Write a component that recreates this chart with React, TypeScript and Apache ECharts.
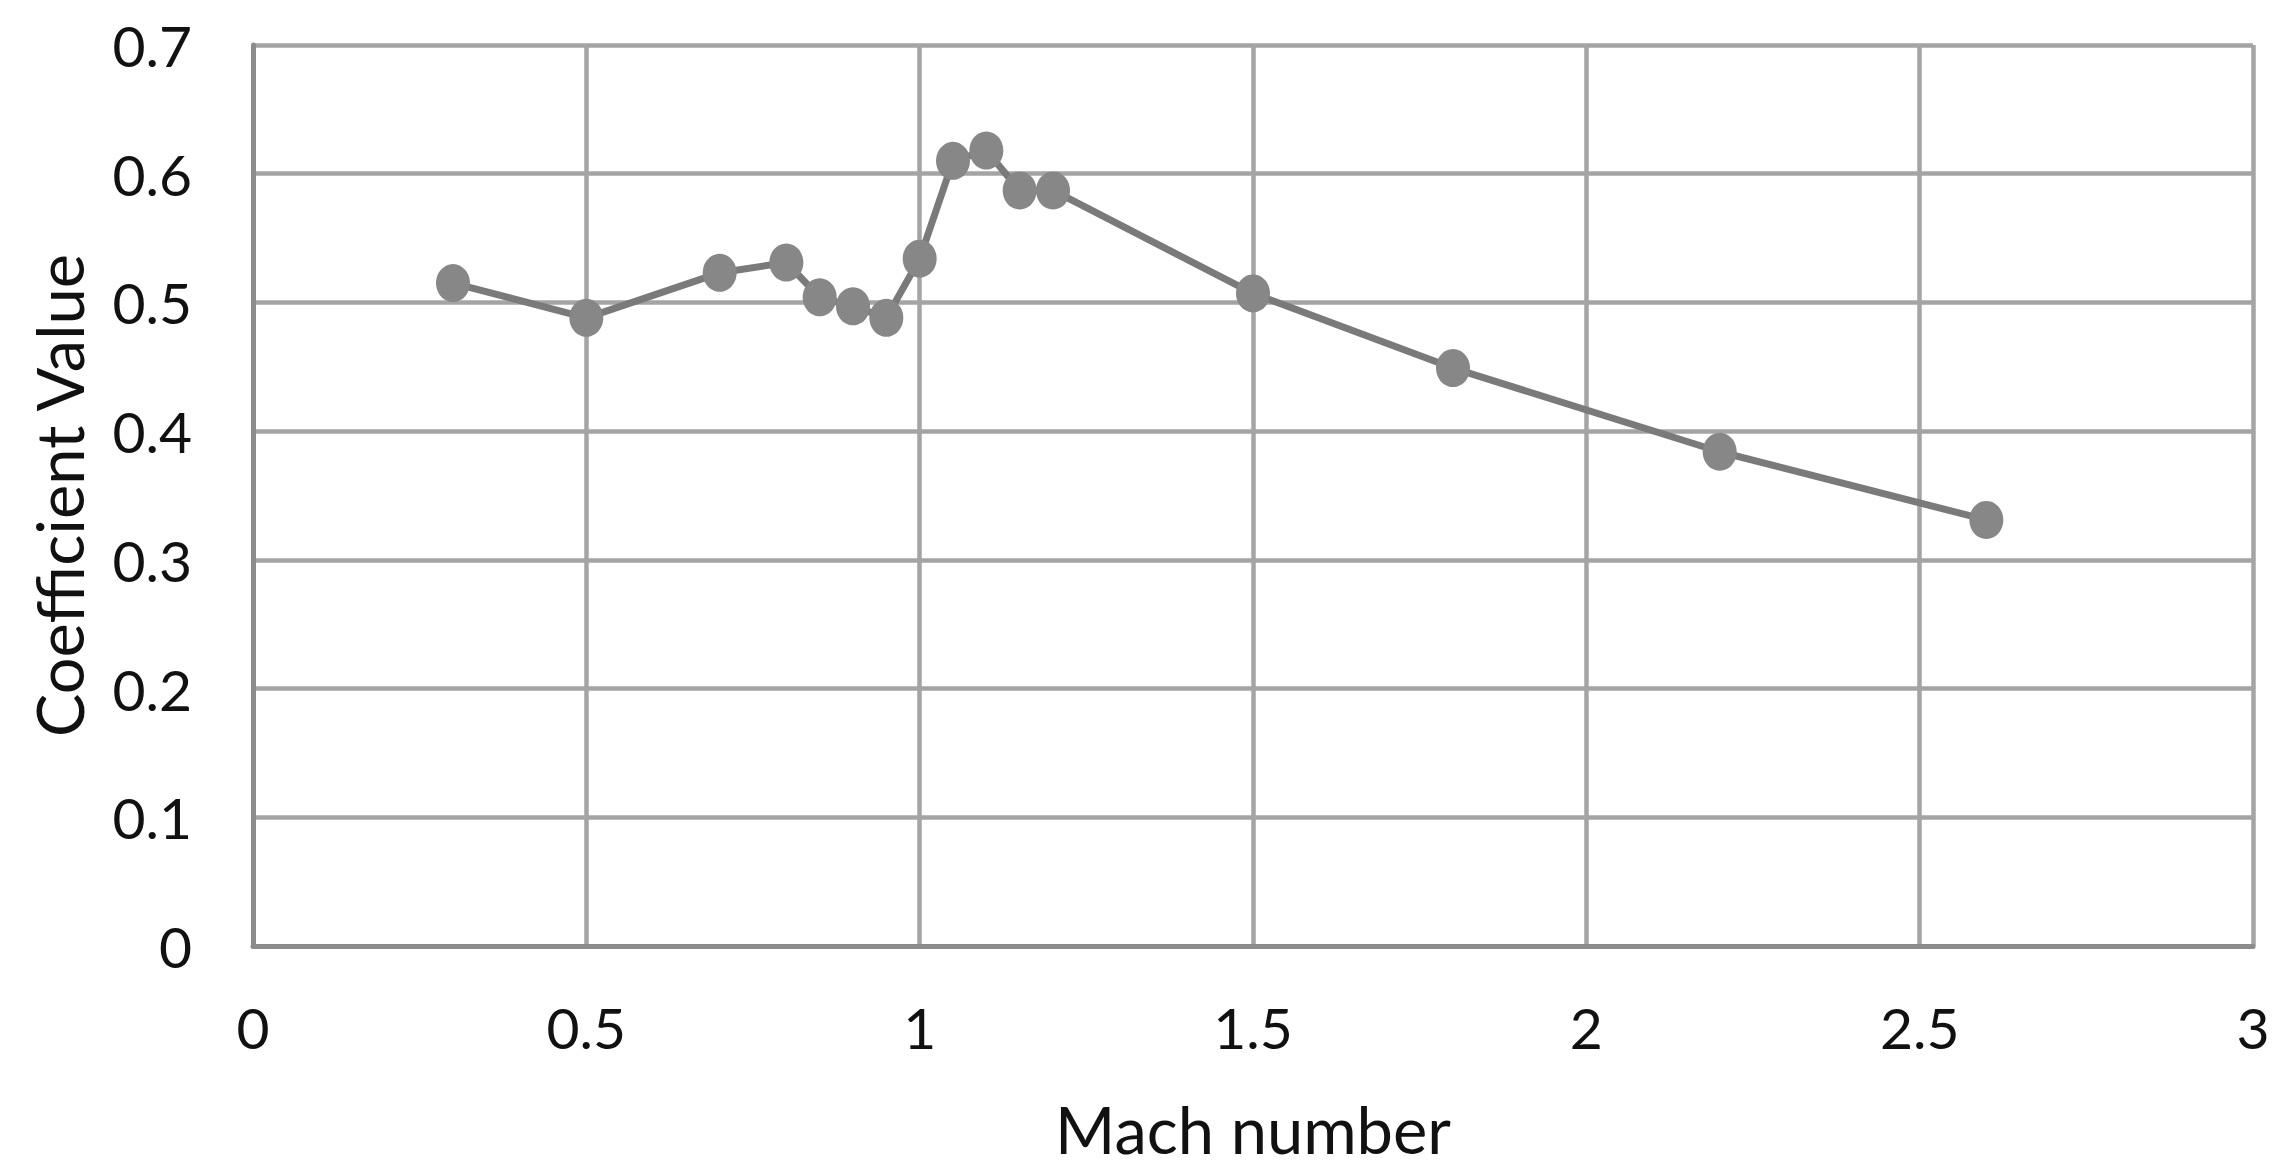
import React, { useEffect, useRef } from "react";
import * as echarts from "echarts";

const machNumbers = [0.3, 0.5, 0.7, 0.8, 0.85, 0.9, 0.95, 1.0, 1.05, 1.1, 1.15, 1.2, 1.5, 1.8, 2.2, 2.6];
const coefficientValues = [0.515, 0.488, 0.523, 0.531, 0.504, 0.497, 0.488, 0.534, 0.61, 0.618, 0.587, 0.587, 0.507, 0.449, 0.384, 0.331];

const xAxisTitle = "Mach number";
const yAxisTitle = "Coefficient Value";

export default function App() {
  const ref = useRef<HTMLDivElement>(null);
  useEffect(() => {
    if (!ref.current) return;
    const chart = echarts.init(ref.current, undefined, { renderer: "svg" });
    const font = "Lato, 'Open Sans', sans-serif";
    chart.setOption({
      animation: false,
      backgroundColor: "#ffffff",
      grid: { left: 253, top: 45, width: 2000, height: 901, containLabel: false },
      xAxis: {
        type: "value",
        min: 0,
        max: 3,
        interval: 0.5,
        name: xAxisTitle,
        nameLocation: "middle",
        nameGap: 150,
        nameTextStyle: { fontFamily: font, fontSize: 65, color: "#111" },
        axisLine: { show: true, lineStyle: { color: "#8c8c8c", width: 5 } },
        axisTick: { show: false },
        axisLabel: { fontFamily: font, fontSize: 57, color: "#111", margin: 52 },
        splitLine: { show: true, lineStyle: { color: "#a4a4a4", width: 4.5 } },
      },
      yAxis: {
        type: "value",
        min: 0,
        max: 0.7,
        interval: 0.1,
        name: yAxisTitle,
        nameLocation: "middle",
        nameGap: 162,
        nameRotate: 90,
        nameTextStyle: { fontFamily: font, fontSize: 65, color: "#111" },
        axisLine: { show: true, lineStyle: { color: "#8c8c8c", width: 5 } },
        axisTick: { show: false },
        axisLabel: {
          fontFamily: font,
          fontSize: 57,
          color: "#111",
          margin: 61,
          formatter: (v: number) => String(Math.round(v * 10) / 10),
        },
        splitLine: { show: true, lineStyle: { color: "#a4a4a4", width: 4.5 } },
      },
      series: [
        {
          type: "line",
          data: machNumbers.map((m, i) => [m, coefficientValues[i]]),
          symbol: "circle",
          symbolSize: [34, 38],
          lineStyle: { color: "#7a7a7a", width: 7 },
          itemStyle: { color: "#878787" },
        },
      ],
    });
    return () => chart.dispose();
  }, []);
  return (
    <div
      ref={ref}
      style={{ position: "fixed", left: 0, top: 0, width: 2291, height: 1174, background: "#fff" }}
    />
  );
}
